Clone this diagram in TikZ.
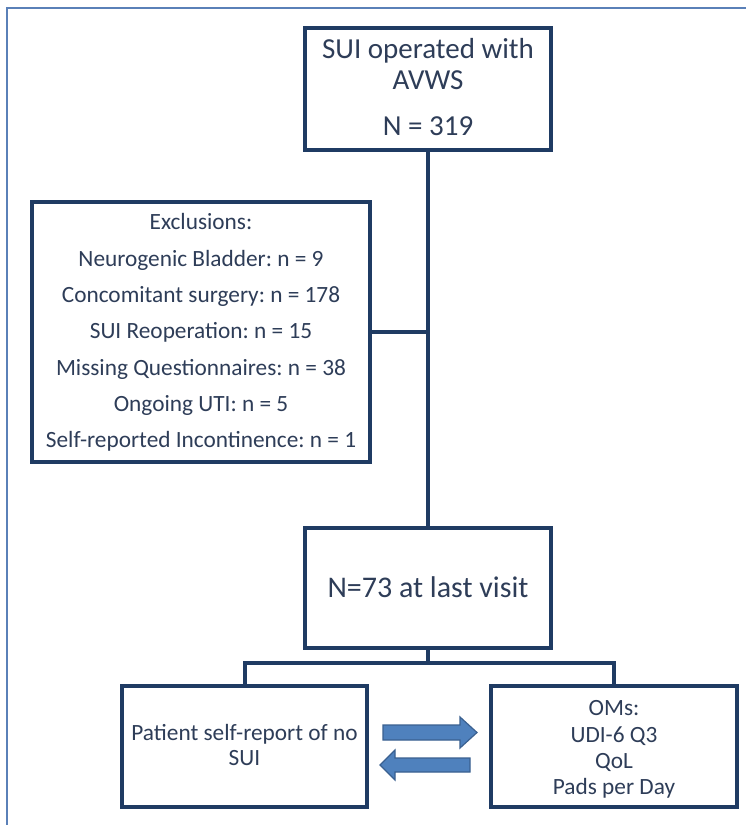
\documentclass[tikz,border=0pt]{standalone}
\usepackage{fontspec}
\setmainfont{Carlito}
\frenchspacing
\usetikzlibrary{calc}
\definecolor{boxline}{HTML}{1F3B63}
\definecolor{txt}{HTML}{2E3D58}
\definecolor{arrfill}{HTML}{4F81BD}
\definecolor{arrline}{HTML}{3A6090}
\definecolor{framec}{HTML}{5A80B8}
\begin{document}
\begin{tikzpicture}[x=1pt,y=-1pt,
  box/.style={draw=boxline, line width=4.8pt, fill=white, inner sep=0pt},
  conn/.style={draw=boxline, line width=4pt},
  lbl/.style={text=txt, inner sep=0pt, align=center},
  big/.style={font=\fontsize{29}{31}\selectfont},
  blockarrow/.style={fill=arrfill, draw=arrline, line width=1.2pt, line join=miter}
]
\useasboundingbox (0,0) rectangle (746,825);
\fill[white] (0,0) rectangle (746,825);
\draw[framec, line width=1.5pt] (7,825) -- (7,8) -- (746,8);

% boxes
\node[box, minimum width=246pt, minimum height=122pt] (top) at (428,89) {};
\node[box, minimum width=338pt, minimum height=260pt] (excl) at (201,332) {};
\node[box, minimum width=246pt, minimum height=120pt] (mid) at (428,588) {};
\node[box, minimum width=245pt, minimum height=121pt] (left) at (244.5,746.5) {};
\node[box, minimum width=246pt, minimum height=121pt] (right) at (614,746.5) {};

% connectors
\draw[conn] (top.south) -- (mid.north);
\draw[conn] (excl.east) -- (excl.east -| top.south);
\coordinate (fork) at ($(mid.south)+(0,13)$);
\draw[conn] (mid.south) -- (fork);
\draw[conn] (fork) -| (left.north);
\draw[conn] (fork) -| (right.north);

% texts
\node[lbl, big] (toptxt) at (428,87) {SUI operated with\\AVWS\\[15pt]N = 319};
\node[lbl, font=\fontsize{23.3}{36.3}\selectfont] (excltxt) at (201,332.5) {Exclusions:\\Neurogenic Bladder: n = 9\\Concomitant surgery: n = 178\\SUI Reoperation: n = 15\\Missing Questionnaires: n = 38\\Ongoing UTI: n = 5\\Self-reported Incontinence: n = 1};
\node[lbl, font=\fontsize{30}{32}\selectfont, anchor=base] (midtxt) at (428,597) {N=73 at last visit};
\node[lbl, font=\fontsize{23.3}{25}\selectfont] (lefttxt) at (244.5,744.5) {Patient self-report of no\\SUI};
\node[lbl, font=\fontsize{23.3}{26.3}\selectfont] (righttxt) at (614,749.5) {OMs:\\UDI-6 Q3\\QoL\\Pads per Day};

% block arrows
\draw[blockarrow] (383,725) -- (460,725) -- (460,717) -- (477,732.5) -- (460,748) -- (460,740) -- (383,740) -- cycle;
\draw[blockarrow] (470,758) -- (395,758) -- (395,750) -- (380,765) -- (395,780) -- (395,772) -- (470,772) -- cycle;
\end{tikzpicture}
\end{document}
